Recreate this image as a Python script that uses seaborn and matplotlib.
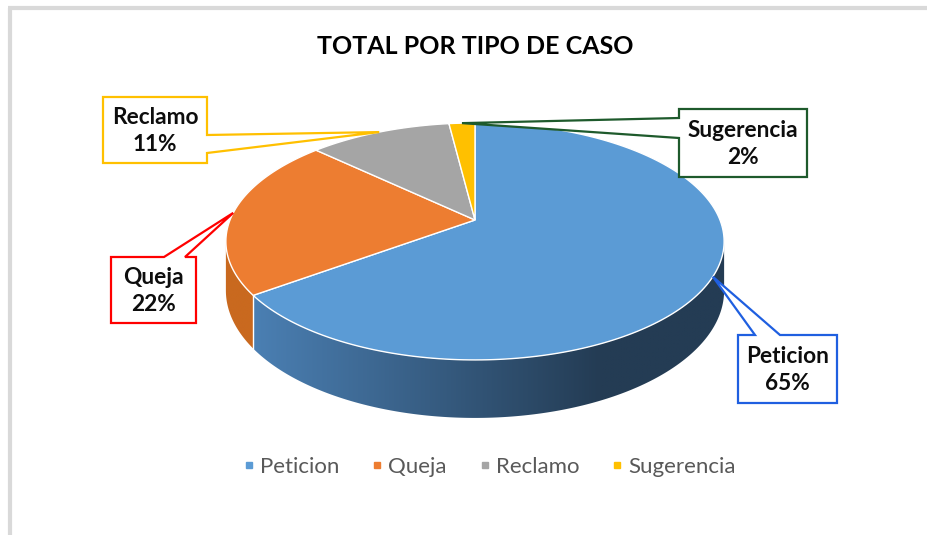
import numpy as np
import matplotlib
matplotlib.use("Agg")
import matplotlib.pyplot as plt
import seaborn as sns
from matplotlib.patches import Polygon
from matplotlib.lines import Line2D
from matplotlib.colors import to_rgb

# ---------------- data ----------------
categories = ["Peticion", "Queja", "Reclamo", "Sugerencia"]
values = [65, 22, 11, 2]
pct_labels = ["65%", "22%", "11%", "2%"]
title = "TOTAL POR TIPO DE CASO"

sns.set_theme(style="white")
plt.rcParams["font.family"] = ["Lato", "DejaVu Sans"]

top_colors = sns.color_palette(["#5b9bd5", "#ed7d31", "#a5a5a5", "#ffc000"])
side_left = ["#4b80b4", "#c9691f", "#8a8a8a", "#d9a400"]
side_right = ["#243c54", "#b95d1a", "#7a7a7a", "#c09000"]
border_colors = ["#1f5fe0", "#ff0000", "#ffc000", "#1e5a2c"]

W, H_ = 928, 535
fig = plt.figure(figsize=(W / 100, H_ / 100), dpi=100)
ax = fig.add_axes([0, 0, 1, 1])
ax.set_xlim(0, W)
ax.set_ylim(H_, 0)
ax.axis("off")

# frame lines (chart area border, partially visible)
ax.plot([10, 10], [8, H_], color="#d9d9d9", lw=3, solid_capstyle="butt", zorder=1)
ax.plot([8, W], [8, 8], color="#d9d9d9", lw=3, solid_capstyle="butt", zorder=1)

# ---------------- 3D pie geometry ----------------
cx, cy = 475, 220
RX, RY, PR, DEPTH = 245, 114.6, 0.181, 47.5


def proj(theta, z=0.0):
    u, v = np.sin(theta), np.cos(theta)
    s = 1.0 / (1.0 + PR * v)
    return cx + RX * u * s, cy - RY * v * s + DEPTH * s * z


total = float(sum(values))
bounds = np.concatenate([[0], np.cumsum(values)]) / total * 2 * np.pi

# side faces (gradient image clipped by side polygon)
th_r = np.arccos(-PR)
th_l = 2 * np.pi - th_r
xs_grad = np.linspace(0, W, 600)

for i in range(len(values)):
    a0, a1 = max(bounds[i], th_r), min(bounds[i + 1], th_l)
    if a1 <= a0:
        continue
    ths = np.linspace(a0, a1, 300)
    top = [proj(t) for t in ths]
    bot = [proj(t, 1) for t in ths[::-1]]
    poly = Polygon(top + bot, closed=True, facecolor="none", edgecolor="none", zorder=2)
    ax.add_patch(poly)
    f = np.clip((xs_grad - 250) / (600 - 250), 0, 1)[None, :, None]
    c1, c2 = np.array(to_rgb(side_left[i])), np.array(to_rgb(side_right[i]))
    img = c1 + (c2 - c1) * f
    img = np.repeat(img, 2, axis=0)
    im = ax.imshow(img, extent=(0, W, H_, 0), aspect="auto", zorder=2,
                   interpolation="bilinear")
    im.set_clip_path(poly)

# top faces
for i in range(len(values)):
    ths = np.linspace(bounds[i], bounds[i + 1], 200)
    pts = [(cx, cy)] + [proj(t) for t in ths]
    ax.add_patch(Polygon(pts, closed=True, facecolor=top_colors[i],
                         edgecolor="white", lw=1.0, zorder=3))
# radial edge on the side at the visible boundary
for b in bounds[1:-1]:
    if th_r < b < th_l:
        ax.plot(*zip(proj(b), proj(b, 1)), color="white", lw=1.0, zorder=3)

ax.set_xlim(0, W)
ax.set_ylim(H_, 0)

# ---------------- title ----------------
ax.text(475, 47, title, ha="center", va="center", fontsize=18,
        fontweight="bold", color="black", zorder=5)

# ---------------- callouts ----------------
boxes = {
    "Peticion": ((738, 335, 837, 403), "top", (755, 780)),
    "Queja": ((111, 257, 196, 323), "top", (164, 185)),
    "Reclamo": ((103, 97, 207, 163), "right", (135, 153)),
    "Sugerencia": ((679, 109, 807, 177), "left", (118, 138)),
}

for i, cat in enumerate(categories):
    (x0, y0, x1, y1), side, (b1, b2) = boxes[cat]
    mid = (bounds[i] + bounds[i + 1]) / 2
    tip = proj(mid)
    if side == "top":
        pts = [(x0, y0), (b1, y0), tip, (b2, y0), (x1, y0), (x1, y1), (x0, y1)]
    elif side == "right":
        pts = [(x0, y0), (x1, y0), (x1, b1), tip, (x1, b2), (x1, y1), (x0, y1)]
    else:
        pts = [(x0, y0), (x1, y0), (x1, y1), (x0, y1), (x0, b2), tip, (x0, b1)]
    ax.add_patch(Polygon(pts, closed=True, facecolor="white",
                         edgecolor=border_colors[i], lw=1.6, zorder=6,
                         joinstyle="miter"))
    ax.text((x0 + x1) / 2, (y0 + y1) / 2 + 1, f"{cat}\n{pct_labels[i]}",
            ha="center", va="center", fontsize=16.3, fontweight="bold",
            color="#0d0d0d", linespacing=1.35, zorder=7)

# ---------------- legend ----------------
handles = [Line2D([0], [0], marker="s", linestyle="none", markersize=5,
                  markerfacecolor=top_colors[i], markeredgecolor=top_colors[i])
           for i in range(len(categories))]
leg = fig.legend(handles, categories, loc="center", ncol=4, frameon=False,
                 bbox_to_anchor=(488 / W, 1 - 467 / H_), fontsize=16,
                 handletextpad=0.1, columnspacing=1.3, handlelength=0.8)
for t in leg.get_texts():
    t.set_color("#595959")

fig.savefig("out.png", dpi=100, facecolor="white")
